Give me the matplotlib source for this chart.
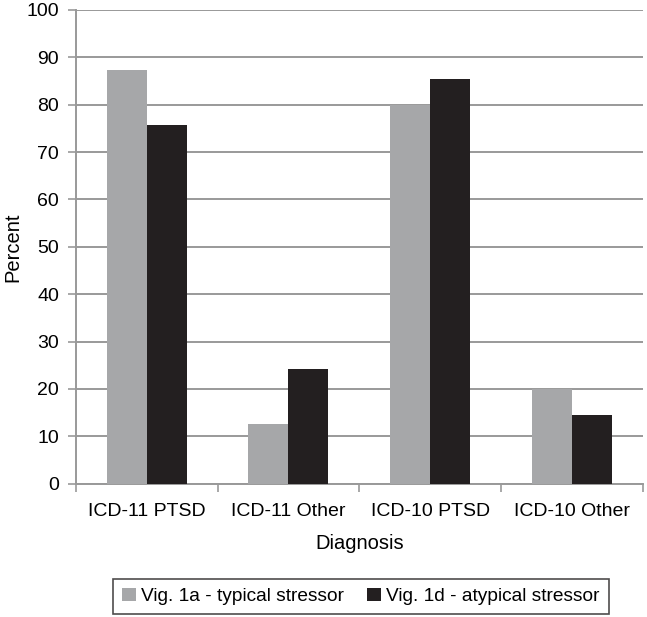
import matplotlib.pyplot as plt
import numpy as np

plt.rcParams['font.family'] = ['Liberation Sans', 'DejaVu Sans']

# data
categories = ['ICD-11 PTSD', 'ICD-11 Other', 'ICD-10 PTSD', 'ICD-10 Other']
typical = [87.4, 12.6, 80.0, 20.0]
atypical = [75.7, 24.3, 85.4, 14.6]
series_names = ['Vig. 1a - typical stressor', 'Vig. 1d - atypical stressor']
yticks = list(range(0, 101, 10))

fig = plt.figure(figsize=(6.47, 6.17), dpi=100)
ax = fig.add_axes([0.117, 0.216, 0.877, 0.768])

x = np.arange(len(categories))
w = 0.282
ax.bar(x - w / 2, typical, w, color='#a6a7a9', label=series_names[0], zorder=3)
ax.bar(x + w / 2, atypical, w, color='#231f20', label=series_names[1], zorder=3)

ax.set_xlim(-0.5, len(categories) - 0.5)
ax.set_ylim(0, 100)
ax.set_yticks(yticks)
ax.set_xticks(x)
ax.set_xticklabels(categories)
ax.tick_params(axis='x', length=0, labelsize=14, pad=14)
ax.tick_params(axis='y', length=6, width=1.2, color='#999999', labelsize=14, pad=6)
# category boundary ticks on x axis
ax.set_xticks(np.arange(-0.5, len(categories)), minor=True)
ax.tick_params(axis='x', which='minor', length=6, width=1.2, color='#999999')

ax.grid(axis='y', color='#999999', linewidth=1.4, zorder=0)
for s in ['top', 'right']:
    ax.spines[s].set_visible(False)
for s in ['left', 'bottom']:
    ax.spines[s].set_color('#999999')
    ax.spines[s].set_linewidth(1.4)

ax.set_xlabel('Diagnosis', fontsize=14.5)
ax.xaxis.set_label_coords(0.5, -0.106)
ax.set_ylabel('Percent', fontsize=14.5)
ax.yaxis.set_label_coords(-0.094, 0.5)

leg = fig.legend(loc='center', bbox_to_anchor=(361 / 647, 0.033), ncol=2, fontsize=13.8,
                 frameon=True, fancybox=False, edgecolor='#231f20',
                 handlelength=0.7, handleheight=0.7, handletextpad=0.3,
                 columnspacing=1.2, borderpad=0.45)
leg.get_frame().set_linewidth(1.2)

plt.savefig('out.png', dpi=100)
